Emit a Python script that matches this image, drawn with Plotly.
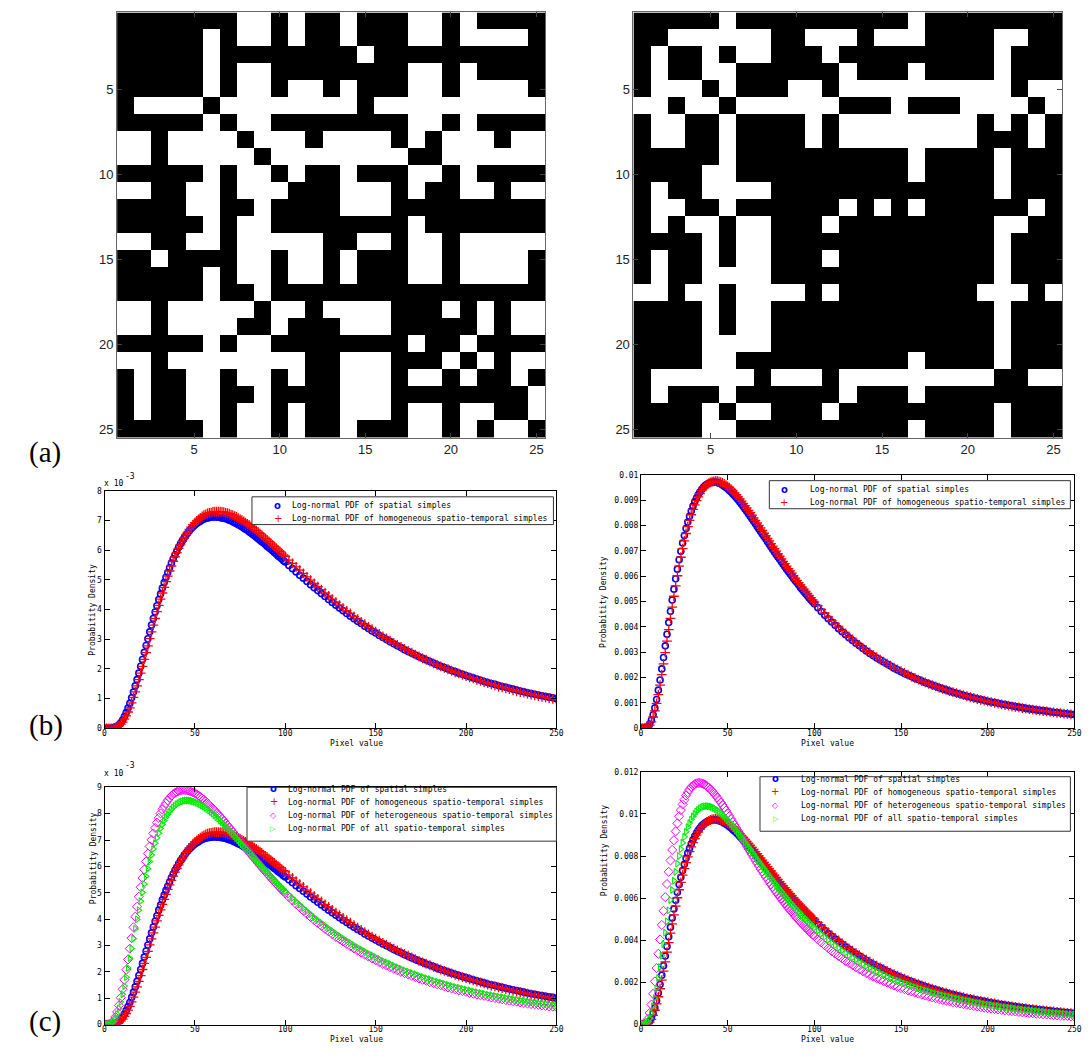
import plotly.graph_objects as go

# ---------------- data ----------------
# (a) binary 25x25 maps: for each row (1..25, top to bottom) the columns that are white
left_map_white_cols = [
    [8, 9, 11, 14, 18, 19, 21],
    [6, 8, 9, 11, 14, 18, 19, 21, 22, 23, 24],
    [6, 15],
    [6, 8, 9, 18, 19, 21],
    [6, 8, 9, 11, 12, 14, 18, 19, 21, 22, 23, 24],
    [2, 3, 4, 5, 7, 8, 9, 10, 11, 12, 13, 14, 16, 17, 18, 19, 20, 21, 22, 23, 24, 25],
    [6, 8, 9, 18, 19, 21],
    [1, 2, 4, 5, 6, 7, 9, 10, 11, 13, 14, 15, 16, 18, 20, 21, 22, 24, 25],
    [1, 2, 4, 5, 6, 7, 8, 10, 11, 12, 13, 14, 15, 16, 17, 20, 21, 22, 23, 24, 25],
    [6, 8, 9, 11, 14, 18, 19, 21],
    [1, 2, 5, 6, 8, 9, 10, 14, 15, 16, 18, 21, 22, 24, 25],
    [5, 6, 9, 14, 15, 16],
    [6, 8, 9, 18],
    [1, 2, 5, 6, 8, 9, 10, 11, 12, 15, 16, 18, 19, 21, 22, 23, 24, 25],
    [3, 8, 9, 11, 12, 14, 18, 19, 21, 22, 23, 24],
    [6, 8, 9, 11, 12, 14, 18, 19, 21, 22, 23, 24],
    [6, 9],
    [1, 2, 4, 5, 6, 7, 8, 10, 11, 13, 14, 15, 16, 20, 22, 24, 25],
    [1, 2, 4, 5, 6, 7, 10, 14, 15, 16, 22, 24, 25],
    [6, 8, 9, 18, 21],
    [1, 2, 4, 5, 6, 7, 8, 9, 10, 11, 14, 15, 16, 20, 22, 24, 25],
    [2, 5, 6, 8, 9, 11, 14, 15, 16, 18, 19, 21, 24],
    [2, 5, 6, 9, 14, 15, 16, 25],
    [2, 5, 6, 8, 9, 11, 14, 15, 16, 18, 19, 21, 22, 25],
    [6, 8, 9, 11, 14, 18, 19, 21, 23, 24],
]
right_map_white_cols = [
    [6, 17],
    [3, 4, 5, 6, 7, 8, 11, 12, 13, 15, 16, 17, 22, 23],
    [2, 5, 7, 8, 12, 22],
    [2, 5, 6, 13, 17, 22],
    [2, 3, 4, 6, 10, 11, 13, 14, 15, 16, 17, 18, 19, 20, 21, 22, 24, 25],
    [1, 2, 4, 5, 7, 8, 9, 10, 11, 12, 16, 20, 21, 22, 23, 25],
    [2, 3, 6, 11, 13, 14, 15, 16, 17, 18, 19, 20, 22, 24],
    [2, 3, 6, 11, 13, 14, 15, 16, 17, 18, 19, 20, 24],
    [6, 17, 22],
    [5, 6, 17, 22],
    [2, 5, 6, 7, 8, 22],
    [2, 3, 6, 13, 15, 17, 24],
    [2, 4, 5, 7, 8, 12, 22, 23],
    [5, 7, 8, 22],
    [2, 5, 7, 8, 12, 22],
    [2, 5, 6, 7, 8, 22],
    [1, 2, 4, 5, 7, 8, 9, 10, 12, 21, 22, 23, 25],
    [5, 7, 8, 22],
    [5, 7, 8, 22],
    [5, 6, 7, 8, 22],
    [5, 6, 17, 22],
    [2, 3, 4, 5, 6, 7, 9, 10, 11, 13, 14, 15, 16, 17, 18, 19, 20, 21, 24, 25],
    [2, 6, 13, 17],
    [5, 7, 8, 12, 22],
    [5, 6, 17, 22],
]
map_ticks = [5, 10, 15, 20, 25]

# (b),(c) log-normal PDFs, values in units of 1e-5
PDF_UNIT = 1e-5
pixel_values_even = list(range(0, 251, 2))   # 0, 2, ..., 250
pixel_values_odd = list(range(1, 100, 2))    # 1, 3, ..., 99 (denser sampling on the steep part)

left_spatial = [
    0, 0, 0, 4, 12, 28, 53, 84, 122, 164, 209, 256, 302, 348, 392, 434, 473, 509, 541, 571, 597,
    621, 641, 658, 673, 685, 694, 702, 707, 710, 712, 712, 710, 708, 704, 699, 693, 686, 679, 671, 662, 653,
    644, 634, 624, 613, 603, 592, 581, 571, 560, 549, 538, 527, 516, 506, 495, 484, 474, 464, 454, 444, 434,
    424, 415, 405, 396, 387, 378, 369, 361, 353, 344, 336, 328, 321, 313, 306, 299, 292, 285, 278, 272, 265,
    259, 253, 247, 241, 236, 230, 225, 220, 214, 209, 205, 200, 195, 191, 186, 182, 178, 174, 170, 166, 162,
    158, 154, 151, 148, 144, 141, 138, 135, 132, 129, 126, 123, 120, 117, 115, 112, 110, 107, 105, 103, 100]
left_spatial_odd = [
    0, 0, 2, 7, 19, 40, 68, 103, 143, 186, 232, 279, 325, 370, 413, 453, 491,
    525, 557, 585, 610, 631, 650, 666, 679, 690, 698, 705, 709, 711, 712, 711, 709, 706,
    701, 696, 690, 683, 675, 667, 658, 649, 639, 629, 619, 608, 598, 587, 576, 565]
left_homog = [
    0, 0, 0, 2, 9, 21, 42, 69, 104, 143, 186, 232, 278, 325, 370, 414, 456, 494, 530, 563, 592,
    618, 641, 661, 678, 693, 704, 714, 721, 726, 729, 730, 730, 728, 725, 720, 715, 708, 701, 693, 685, 676,
    666, 656, 645, 635, 624, 613, 601, 590, 579, 567, 556, 544, 533, 522, 510, 499, 488, 477, 467, 456, 446,
    435, 425, 415, 405, 396, 387, 377, 368, 359, 351, 342, 334, 326, 318, 310, 303, 295, 288, 281, 274, 268,
    261, 255, 248, 242, 236, 231, 225, 219, 214, 209, 204, 199, 194, 189, 185, 180, 176, 172, 168, 163, 160,
    156, 152, 148, 145, 141, 138, 135, 132, 128, 125, 122, 120, 117, 114, 111, 109, 106, 104, 101, 99, 97]
left_homog_odd = [
    0, 0, 1, 5, 14, 31, 55, 86, 123, 164, 209, 255, 302, 348, 393, 435, 475,
    513, 547, 578, 606, 630, 652, 670, 686, 699, 709, 718, 724, 727, 730, 730, 729, 726,
    723, 718, 712, 705, 697, 689, 680, 671, 661, 651, 640, 629, 618, 607, 596, 584]
left_hetero = [
    0, 0, 6, 29, 73, 134, 208, 288, 369, 447, 521, 588, 649, 701, 746, 784, 816, 840, 860, 874, 883,
    888, 890, 888, 884, 878, 869, 858, 847, 833, 819, 804, 789, 773, 756, 739, 722, 705, 688, 671, 654, 637,
    621, 605, 588, 573, 557, 542, 527, 512, 498, 484, 471, 457, 445, 432, 420, 408, 396, 385, 374, 363, 353,
    343, 333, 324, 315, 306, 297, 289, 281, 273, 265, 258, 251, 244, 237, 230, 224, 218, 212, 206, 200, 195,
    190, 185, 180, 175, 170, 166, 161, 157, 153, 149, 145, 141, 137, 134, 130, 127, 124, 120, 117, 114, 111,
    109, 106, 103, 101, 98, 96, 93, 91, 89, 87, 84, 82, 80, 78, 77, 75, 73, 71, 69, 68, 66]
left_hetero_odd = [
    0, 2, 15, 48, 102, 170, 247, 328, 409, 485, 556, 619, 676, 725, 766, 801, 829,
    851, 867, 879, 886, 890, 890, 887, 881, 873, 864, 853, 840, 826, 812, 797, 781, 764,
    748, 731, 714, 697, 680, 663, 646, 629, 613, 596, 581, 565, 549, 534, 520, 505]
left_all = [
    0, 0, 5, 24, 61, 115, 180, 252, 326, 399, 468, 533, 591, 643, 688, 726, 759, 786, 807, 824, 836,
    844, 849, 850, 849, 845, 839, 831, 822, 812, 800, 787, 774, 760, 745, 731, 715, 700, 684, 669, 653, 638,
    622, 607, 592, 577, 562, 548, 534, 520, 506, 493, 480, 467, 455, 442, 430, 419, 407, 396, 386, 375, 365,
    355, 346, 336, 327, 318, 310, 301, 293, 285, 278, 270, 263, 256, 249, 242, 236, 230, 224, 218, 212, 206,
    201, 196, 191, 186, 181, 176, 172, 167, 163, 159, 155, 151, 147, 143, 140, 136, 133, 130, 126, 123, 120,
    117, 114, 112, 109, 106, 104, 101, 99, 96, 94, 92, 90, 87, 85, 83, 81, 80, 78, 76, 74, 72]
left_all_odd = [
    0, 1, 12, 40, 86, 146, 215, 289, 363, 434, 501, 562, 618, 666, 708, 744, 773,
    797, 816, 830, 840, 847, 850, 850, 847, 842, 835, 827, 817, 806, 794, 781, 767, 753,
    738, 723, 708, 692, 677, 661, 646, 630, 615, 600, 585, 570, 555, 541, 527, 513]
right_spatial = [
    0, 0, 6, 31, 80, 150, 234, 325, 417, 506, 590, 665, 731, 789, 837, 877, 909, 933, 951, 963, 970,
    972, 970, 965, 956, 946, 933, 918, 902, 884, 866, 847, 827, 807, 787, 767, 747, 726, 706, 686, 667, 647,
    628, 610, 591, 574, 556, 539, 523, 506, 491, 476, 461, 446, 432, 419, 406, 393, 381, 369, 357, 346, 335,
    325, 315, 305, 295, 286, 277, 269, 261, 253, 245, 237, 230, 223, 216, 210, 204, 197, 192, 186, 180, 175,
    170, 165, 160, 155, 151, 146, 142, 138, 134, 130, 126, 123, 119, 116, 113, 110, 106, 103, 101, 98, 95,
    93, 90, 88, 85, 83, 81, 78, 76, 74, 72, 70, 69, 67, 65, 63, 62, 60, 58, 57, 55, 54]
right_spatial_odd = [
    0, 2, 16, 53, 113, 190, 279, 371, 462, 549, 628, 699, 761, 814, 858, 894, 922,
    943, 958, 967, 971, 972, 968, 961, 951, 939, 925, 910, 893, 875, 857, 837, 817, 797,
    777, 757, 736, 716, 696, 676, 657, 638, 619, 601, 582, 565, 548, 531, 514, 499]
right_homog = [
    0, 0, 5, 25, 68, 132, 211, 298, 389, 478, 562, 640, 709, 769, 821, 864, 899, 927, 947, 962, 971,
    975, 976, 972, 965, 955, 943, 929, 914, 897, 879, 860, 841, 821, 801, 781, 760, 740, 719, 699, 679, 659,
    640, 621, 602, 584, 566, 549, 532, 515, 499, 484, 468, 454, 439, 425, 412, 399, 386, 374, 362, 351, 340,
    329, 318, 308, 299, 289, 280, 271, 263, 255, 247, 239, 232, 225, 218, 211, 204, 198, 192, 186, 181, 175,
    170, 165, 160, 155, 151, 146, 142, 138, 134, 130, 126, 122, 119, 115, 112, 109, 106, 103, 100, 97, 94,
    91, 89, 86, 84, 82, 79, 77, 75, 73, 71, 69, 67, 66, 64, 62, 60, 59, 57, 56, 54, 53]
right_homog_odd = [
    0, 1, 12, 44, 98, 170, 254, 344, 434, 521, 602, 675, 740, 796, 843, 882, 914,
    938, 955, 967, 974, 976, 974, 969, 960, 950, 937, 922, 906, 888, 870, 851, 831, 811,
    791, 770, 750, 729, 709, 689, 669, 650, 630, 612, 593, 575, 557, 540, 524, 507]
right_hetero = [
    0, 1, 26, 95, 205, 336, 473, 605, 725, 829, 917, 989, 1045, 1087, 1116, 1135, 1145, 1147, 1142, 1132, 1117,
    1099, 1078, 1054, 1029, 1002, 975, 947, 919, 890, 862, 834, 806, 779, 753, 727, 701, 676, 652, 629, 607, 585,
    564, 543, 524, 505, 486, 469, 452, 435, 420, 404, 390, 376, 362, 349, 337, 325, 314, 302, 292, 282, 272,
    262, 253, 244, 236, 228, 220, 213, 206, 199, 192, 186, 179, 173, 168, 162, 157, 152, 147, 142, 138, 133,
    129, 125, 121, 117, 113, 110, 106, 103, 100, 97, 94, 91, 88, 86, 83, 81, 78, 76, 74, 72, 70,
    68, 66, 64, 62, 60, 58, 57, 55, 54, 52, 51, 49, 48, 47, 45, 44, 43, 42, 41, 39, 38]
right_hetero_odd = [
    0, 9, 55, 146, 268, 404, 540, 667, 779, 875, 955, 1018, 1067, 1103, 1127, 1141, 1147,
    1145, 1138, 1125, 1108, 1088, 1066, 1042, 1016, 989, 961, 933, 905, 876, 848, 820, 793, 766,
    739, 714, 689, 664, 641, 618, 596, 574, 553, 533, 514, 495, 477, 460, 443, 427]
right_all = [
    0, 1, 13, 54, 126, 221, 327, 436, 542, 639, 725, 800, 863, 915, 956, 988, 1011, 1026, 1034, 1037, 1035,
    1028, 1018, 1005, 989, 971, 952, 932, 910, 888, 865, 842, 819, 796, 773, 750, 728, 705, 683, 662, 641, 621,
    601, 581, 562, 544, 526, 509, 492, 476, 460, 445, 430, 416, 402, 389, 376, 364, 352, 340, 329, 318, 308,
    298, 288, 279, 270, 261, 253, 245, 237, 229, 222, 215, 208, 202, 196, 190, 184, 178, 173, 167, 162, 157,
    152, 148, 143, 139, 135, 131, 127, 123, 120, 116, 113, 110, 106, 103, 100, 97, 95, 92, 89, 87, 84,
    82, 80, 78, 75, 73, 71, 69, 68, 66, 64, 62, 61, 59, 57, 56, 54, 53, 52, 50, 49, 48]
right_all_odd = [
    0, 4, 29, 87, 171, 273, 382, 490, 591, 683, 764, 833, 891, 937, 973, 1000, 1019,
    1031, 1036, 1036, 1032, 1023, 1012, 997, 980, 962, 942, 921, 899, 877, 854, 831, 808, 784,
    761, 739, 716, 694, 673, 651, 631, 611, 591, 572, 553, 535, 517, 500, 484, 468]

legend_labels = ["Log-normal PDF of spatial simples",
                 "Log-normal PDF of homogeneous spatio-temporal simples",
                 "Log-normal PDF of heterogeneous spatio-temporal simples",
                 "Log-normal PDF of all spatio-temporal simples"]
x_ticks = [0, 50, 100, 150, 200, 250]

# ---------------- layout helpers ----------------
OFF = 8            # default page margin around the plot div
W, H = 1080, 1054
def fx(px):
    return min(1.0, max(0.0, (px - OFF) / W))
def fy(py):
    return min(1.0, max(0.0, 1 - (py - OFF) / H))

MONO = "DejaVu Sans Mono"
fig = go.Figure()

def build_map(white_cols):
    return [[1 if c in row else 0 for c in range(1, 26)] for row in white_cols]

# --- (a) maps
for i, (wc, xd) in enumerate([(left_map_white_cols, (116, 547.5)), (right_map_white_cols, (636.7, 1069))]):
    ax = '' if i == 0 else str(i + 1)
    fig.add_trace(go.Heatmap(z=build_map(wc), x=list(range(1, 26)), y=list(range(1, 26)),
                             colorscale=[[0, 'black'], [1, 'white']], zmin=0, zmax=1,
                             showscale=False, hoverinfo='skip',
                             xaxis='x' + ax, yaxis='y' + ax))
    axcommon = dict(range=[0.5, 25.5], tickvals=map_ticks, ticks='inside', ticklen=5,
                    tickcolor='#444', showline=True, linecolor='#666', linewidth=1, mirror='ticks',
                    showgrid=False, zeroline=False,
                    tickfont=dict(family='Liberation Sans', size=13, color='#222'))
    fig.layout['xaxis' + ax] = dict(domain=[fx(xd[0]), fx(xd[1])], anchor='y' + ax, **axcommon)
    yc = dict(axcommon)
    yc['range'] = [25.5, 0.5]
    fig.layout['yaxis' + ax] = dict(domain=[fy(437.5), fy(8.5)], anchor='x' + ax, **yc)

# --- (b),(c) PDF panels
L_S = (left_spatial, left_spatial_odd)
L_H = (left_homog, left_homog_odd)
L_X = (left_hetero, left_hetero_odd)
L_A = (left_all, left_all_odd)
R_S = (right_spatial, right_spatial_odd)
R_H = (right_homog, right_homog_odd)
R_X = (right_hetero, right_hetero_odd)
R_A = (right_all, right_all_odd)
panels = [
    (3, (103.3, 559), (491, 730.5), [L_S, L_H], 0.008,
     [i * 0.001 for i in range(9)], [str(i) for i in range(9)]),
    (4, (644.3, 1081.3), (475, 730.3), [R_S, R_H], 0.01,
     [i * 0.001 for i in range(11)], ['0'] + ['0.%03d' % i for i in range(1, 10)] + ['0.01']),
    (5, (103.3, 559), (790, 1029.3), [L_S, L_H, L_X, L_A], 0.009,
     [i * 0.001 for i in range(10)], [str(i) for i in range(10)]),
    (6, (644.3, 1081.3), (774.3, 1029.3), [R_S, R_H, R_X, R_A], 0.012,
     [i * 0.002 for i in range(7)], ['0', '0.002', '0.004', '0.006', '0.008', '0.01', '0.012']),
]
styles = [
    dict(symbol='circle-open', size=6, color='#0000ff', line=dict(width=1.6, color='#0000ff')),
    dict(symbol='cross-thin-open', size=7, color='#ff0000', line=dict(width=1.3, color='#ff0000')),
    dict(symbol='diamond-open', size=7, color='#ff00ff', line=dict(width=1, color='#ff00ff')),
    dict(symbol='triangle-right-open', size=6, color='#00ee00', line=dict(width=1.1, color='#00ee00')),
]
for idx, xd, yd, series, ymax, tv, tt in panels:
    ax = str(idx)
    for k, (s_even, s_odd) in enumerate(series):
        fig.add_trace(go.Scatter(x=pixel_values_even + pixel_values_odd,
                                 y=[v * PDF_UNIT for v in s_even + s_odd], mode='markers',
                                 marker=styles[k], showlegend=False, hoverinfo='skip',
                                 xaxis='x' + ax, yaxis='y' + ax))
    common = dict(ticks='inside', ticklen=5, tickcolor='black', showline=True, linecolor='black',
                  linewidth=1, mirror='ticks', showgrid=False, zeroline=False,
                  tickfont=dict(family=MONO, size=8, color='black'))
    fig.layout['xaxis' + ax] = dict(domain=[fx(xd[0]), fx(xd[1])], anchor='y' + ax, range=[0, 250],
                                    tickvals=x_ticks, ticklabelstandoff=-3, **common)
    fig.layout['yaxis' + ax] = dict(domain=[fy(yd[1]), fy(yd[0])], anchor='x' + ax, range=[0, ymax],
                                    tickvals=tv, ticktext=tt, **common)

# --- axis titles, exponents
for cx, cy in [(329, 752), (861, 752), (329, 1051), (861, 1051)]:
    fig.add_annotation(x=fx(cx), y=fy(cy), xref='paper', yref='paper', text='Pixel value',
                       showarrow=False, font=dict(family=MONO, size=8, color='black'))
for cx, cy in [(85, 611), (607, 603), (85, 910), (607, 902)]:
    fig.add_annotation(x=fx(cx), y=fy(cy), xref='paper', yref='paper', text='Probabitity Density',
                       textangle=-90, showarrow=False, font=dict(family=MONO, size=8, color='black'))
for top in (491, 790):
    fig.add_annotation(x=fx(101), y=fy(top - 7), xref='paper', yref='paper', text='x 10',
                       xanchor='left', showarrow=False, font=dict(family=MONO, size=8, color='black'))
    fig.add_annotation(x=fx(121.5), y=fy(top - 15), xref='paper', yref='paper', text='-3',
                       xanchor='left', showarrow=False, font=dict(family=MONO, size=8, color='black'))

# --- legends (drawn as boxes with symbol + text)
legend_specs = [
    ((252, 497, 556, 525), 272.7, 290.7, [506, 519.3], 2),
    ((773.7, 480.7, 1077.3, 509), 795, 812.7, [489.3, 502.3], 2),
    ((247, 790, 559, 844.3), 268.3, 286, [799, 812.3, 825.3, 838.3], 4),
    ((764.3, 779.3, 1077.3, 834.3), 785, 803.3, [788.3, 801.7, 815, 828.3], 4),
]
leg_symbols = [('o', '#0000ff', 'DejaVu Sans', 10, True), ('+', '#ff0000', 'DejaVu Sans', 10, False),
               ('\u25c7', '#ff00ff', 'DejaVu Sans', 8, False), ('\u25b7', '#00ee00', 'DejaVu Sans', 7, False)]
for (x0, y0, x1, y1), mx, tx, rows, n in legend_specs:
    fig.add_shape(type='rect', xref='paper', yref='paper', x0=fx(x0), x1=fx(x1), y0=fy(y1), y1=fy(y0),
                  line=dict(color='#333', width=1), fillcolor='white', layer='above')
    for k in range(n):
        sym, col, fam, sz, bold = leg_symbols[k]
        fig.add_annotation(x=fx(mx), y=fy(rows[k]), xref='paper', yref='paper',
                           text=('<b>%s</b>' % sym) if bold else sym, showarrow=False,
                           font=dict(family=fam, size=sz, color=col))
        fig.add_annotation(x=fx(tx), y=fy(rows[k]), xref='paper', yref='paper', text=legend_labels[k],
                           xanchor='left', showarrow=False, font=dict(family=MONO, size=8, color='black'))

# --- panel labels
for lbl, cy in [('(a)', 452), ('(b)', 746), ('(c)', 1045)]:
    fig.add_annotation(x=fx(25), y=fy(cy), xref='paper', yref='paper', text=lbl, showarrow=False,
                       font=dict(family='Liberation Serif', size=29, color='black'))

fig.update_layout(width=W, height=H, margin=dict(l=0, r=0, t=0, b=0),
                  paper_bgcolor='white', plot_bgcolor='white', showlegend=False)
fig.write_html("out.html")
